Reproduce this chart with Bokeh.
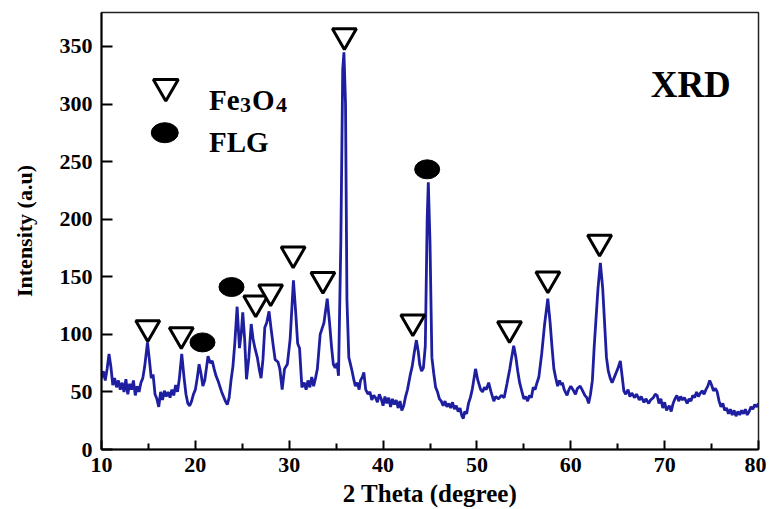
from bokeh.plotting import figure
from bokeh.models import Range1d, FixedTicker, Label
from bokeh.embed import file_html
from bokeh.resources import INLINE

# ---- data ----
two_theta = [10.0, 10.2, 10.4, 10.6, 10.8, 11.0, 11.2, 11.4, 11.6, 11.8, 12.0, 12.2, 12.4, 12.6, 12.8,
             13.0, 13.2, 13.4, 13.6, 13.8, 14.0, 14.2, 14.4, 14.6, 14.9, 15.1, 15.3, 15.5, 15.7, 15.9,
             16.1, 16.3, 16.5, 16.7, 16.9, 17.1, 17.3, 17.5, 17.7, 17.9, 18.1, 18.3, 18.55, 18.8, 19.0,
             19.2, 19.4, 19.6, 19.8, 20.0, 20.2, 20.4, 20.6, 20.8, 21.0, 21.2, 21.35, 21.6, 21.8, 22.0,
             22.2, 22.4, 22.6, 22.8, 23.0, 23.2, 23.4, 23.6, 23.8, 24.0, 24.2, 24.45, 24.7, 24.9, 25.05,
             25.25, 25.45, 25.7, 25.95, 26.15, 26.35, 26.6, 26.8, 27.0, 27.2, 27.4, 27.6, 27.85, 28.05,
             28.3, 28.5, 28.8, 29.0, 29.25, 29.5, 29.8, 30.1, 30.45, 30.7, 30.9, 31.1, 31.35, 31.6, 31.8,
             32.0, 32.2, 32.4, 32.6, 32.8, 33.0, 33.3, 33.5, 33.7, 34.05, 34.3, 34.5, 34.7, 34.9, 35.1,
             35.25, 35.5, 35.7, 35.83, 36.0, 36.15, 36.35, 36.5, 36.7, 36.9, 37.05, 37.25, 37.45, 37.6,
             37.8, 37.95, 38.15, 38.4, 38.6, 38.8, 39.0, 39.2, 39.4, 39.6, 39.8, 40.0, 40.2, 40.4, 40.6,
             40.8, 41.0, 41.2, 41.4, 41.6, 41.8, 42.0, 42.2, 42.4, 42.6, 42.9, 43.1, 43.3, 43.55, 43.75,
             43.9, 44.1, 44.3, 44.5, 44.7, 44.82, 45.0, 45.2, 45.4, 45.6, 45.8, 46.0, 46.2, 46.4, 46.6,
             46.8, 47.0, 47.2, 47.4, 47.6, 47.8, 48.0, 48.2, 48.4, 48.55, 48.7, 48.9, 49.1, 49.3, 49.5,
             49.85, 50.1, 50.4, 50.6, 50.8, 51.0, 51.25, 51.5, 51.8, 52.0, 52.3, 52.6, 52.9, 53.2, 53.5,
             53.7, 53.92, 54.15, 54.35, 54.55, 54.8, 55.0, 55.2, 55.4, 55.6, 55.8, 56.0, 56.2, 56.4, 56.6,
             56.9, 57.2, 57.55, 57.8, 58.0, 58.2, 58.4, 58.6, 58.8, 59.0, 59.1, 59.3, 59.6, 59.8, 60.0,
             60.3, 60.5, 60.7, 61.0, 61.2, 61.5, 61.7, 61.9, 62.1, 62.3, 62.5, 62.7, 62.9, 63.15, 63.4,
             63.6, 63.8, 64.0, 64.2, 64.4, 64.6, 64.8, 65.0, 65.28, 65.45, 65.65, 65.85, 66.1, 66.3, 66.5,
             66.8, 67.0, 67.3, 67.5, 67.8, 68.0, 68.3, 68.5, 68.8, 69.0, 69.2, 69.4, 69.6, 69.8, 70.0,
             70.2, 70.5, 70.7, 70.9, 71.1, 71.3, 71.5, 71.7, 71.9, 72.1, 72.4, 72.6, 72.8, 73.0, 73.2,
             73.4, 73.6, 73.8, 74.0, 74.2, 74.4, 74.6, 74.8, 75.0, 75.2, 75.4, 75.6, 75.8, 76.0, 76.2,
             76.4, 76.6, 76.8, 77.0, 77.2, 77.4, 77.6, 77.8, 78.0, 78.2, 78.4, 78.6, 78.8, 79.0, 79.2,
             79.4, 79.6, 79.8, 80.0]

intensity = [62, 68, 60, 70, 83, 72, 56, 62, 54, 60, 52, 58, 50, 61, 48,
             57, 52, 60, 47, 55, 50, 58, 62, 72, 93, 78, 62, 65, 48, 44,
             37, 50, 43, 51, 46, 50, 45, 52, 47, 56, 50, 62, 83, 62, 48,
             40, 38, 42, 48, 52, 62, 74, 66, 55, 60, 72, 81, 75, 77, 70,
             64, 60, 55, 50, 46, 42, 39, 45, 60, 72, 92, 124, 88, 102, 119,
             96, 61, 80, 109, 96, 88, 80, 70, 62, 78, 106, 110, 120, 106,
             90, 78, 76, 70, 52, 70, 74, 96, 147, 118, 92, 88, 54, 58, 52,
             60, 54, 63, 55, 62, 70, 100, 105, 110, 131, 110, 90, 74, 71, 75,
             64, 180, 330, 345, 300, 130, 80, 75, 68, 60, 55, 58, 52, 60,
             63, 67, 52, 48, 50, 43, 47, 45, 41, 48, 44, 38, 46, 40, 45,
             37, 44, 39, 43, 36, 42, 34, 38, 46, 52, 65, 72, 83, 95, 85,
             74, 68, 71, 90, 200, 232, 180, 80, 66, 54, 50, 44, 42, 38, 42,
             37, 40, 36, 41, 35, 38, 33, 36, 29, 27, 33, 31, 40, 45, 52,
             70, 60, 52, 50, 54, 52, 58, 50, 42, 46, 44, 47, 45, 57, 70,
             80, 90, 80, 68, 58, 50, 44, 46, 42, 47, 45, 54, 52, 58, 63,
             83, 108, 131, 110, 89, 70, 62, 55, 60, 56, 58, 52, 47, 52, 55,
             51, 48, 53, 55, 52, 47, 45, 40, 48, 60, 90, 115, 140, 162, 140,
             110, 80, 68, 62, 58, 62, 66, 70, 77, 65, 51, 48, 52, 46, 49,
             45, 48, 43, 46, 41, 44, 40, 43, 45, 48, 47, 40, 44, 36, 41,
             34, 38, 33, 40, 44, 47, 42, 46, 43, 45, 40, 44, 42, 47, 45,
             50, 46, 49, 51, 48, 52, 55, 60, 56, 51, 53, 50, 42, 37, 40,
             34, 36, 31, 35, 30, 34, 29, 33, 30, 34, 31, 35, 30, 33, 37,
             35, 39, 37, 40]

# peak markers
fe3o4_x = [14.93, 18.5, 26.43, 28.02, 30.42, 33.59, 35.88, 43.17, 53.47, 57.56, 63.07]
fe3o4_y = [105.8, 99.8, 127.3, 136.9, 169.8, 147.8, 359.4, 110.8, 105.0, 148.2, 180.0]
flg_x = [20.76, 23.85, 44.7]
flg_y = [93.0, 141.1, 243.3]

x_ticks = [10, 20, 30, 40, 50, 60, 70, 80]
x_minor = [15, 25, 35, 45, 55, 65, 75]
y_ticks = [0, 50, 100, 150, 200, 250, 300, 350]

FONT = "Liberation Serif"
LINE_COLOR = "#1e1ea0"

p = figure(width=766, height=509, output_backend="svg", toolbar_location=None,
           x_range=Range1d(10, 80), y_range=Range1d(0, 379.5),
           min_border_left=101, min_border_right=8, min_border_top=12, min_border_bottom=60)

p.xgrid.visible = False
p.ygrid.visible = False
p.outline_line_color = "#222222"
p.outline_line_width = 1.5
p.background_fill_color = "white"
p.border_fill_color = "white"

p.line(two_theta, intensity, line_color=LINE_COLOR, line_width=2.8)

p.scatter(fe3o4_x, fe3o4_y, marker="inverted_triangle", size=24, fill_color="white",
          line_color="black", line_width=3)
p.ellipse(flg_x, flg_y, width=25, height=19, width_units="screen", height_units="screen",
          fill_color="black", line_color="black")

# legend (drawn as in the original)
p.scatter([16.85], [315.1], marker="inverted_triangle", size=25, fill_color="white",
          line_color="black", line_width=3)
p.ellipse([16.74], [275.1], width=27, height=20, width_units="screen", height_units="screen",
          fill_color="black", line_color="black")

def lab(x, y, text, size, xo=0, yo=0, align="left"):
    p.add_layout(Label(x=x, y=y, x_offset=xo, y_offset=yo, text=text, text_font=FONT,
                       text_font_style="bold", text_font_size=f"{size}px", text_color="black",
                       text_baseline="alphabetic", text_align=align))

lab(21.45, 303.9, "Fe", 29)
lab(21.45, 303.9, "3", 22, xo=31, yo=-5)
lab(21.45, 303.9, "O", 29, xo=43)
lab(21.45, 303.9, "4", 22, xo=67, yo=-5)
lab(21.45, 266.8, "FLG", 29)
lab(72.78, 317.3, "XRD", 37, align="center")

for ax in (p.xaxis[0], p.yaxis[0]):
    ax.axis_line_color = "black"
    ax.axis_line_width = 2
    ax.major_tick_line_color = "black"
    ax.major_tick_line_width = 2
    ax.minor_tick_line_color = "black"
    ax.minor_tick_line_width = 2
    ax.major_tick_out = 0
    ax.minor_tick_out = 0
    ax.major_label_text_font = FONT
    ax.major_label_text_font_style = "bold"
    ax.major_label_text_font_size = "22px"
    ax.major_label_text_color = "black"
    ax.axis_label_text_font = FONT
    ax.axis_label_text_font_style = "bold"
    ax.axis_label_text_color = "black"

p.xaxis.ticker = FixedTicker(ticks=x_ticks, minor_ticks=x_minor)
p.xaxis.major_tick_in = 9
p.xaxis.minor_tick_in = 6
p.xaxis.major_label_standoff = 8
p.xaxis.axis_label = "2 Theta (degree)"
p.xaxis.axis_label_text_font_size = "25px"
p.xaxis.axis_label_standoff = 5

p.yaxis.ticker = FixedTicker(ticks=y_ticks, minor_ticks=[])
p.yaxis.major_tick_in = 11
p.yaxis.minor_tick_in = 0
p.yaxis.major_label_standoff = 9
p.yaxis.axis_label = "Intensity (a.u)"
p.yaxis.axis_label_text_font_size = "22px"
p.yaxis.axis_label_standoff = 20

open("out.html", "w").write(file_html(p, INLINE))
